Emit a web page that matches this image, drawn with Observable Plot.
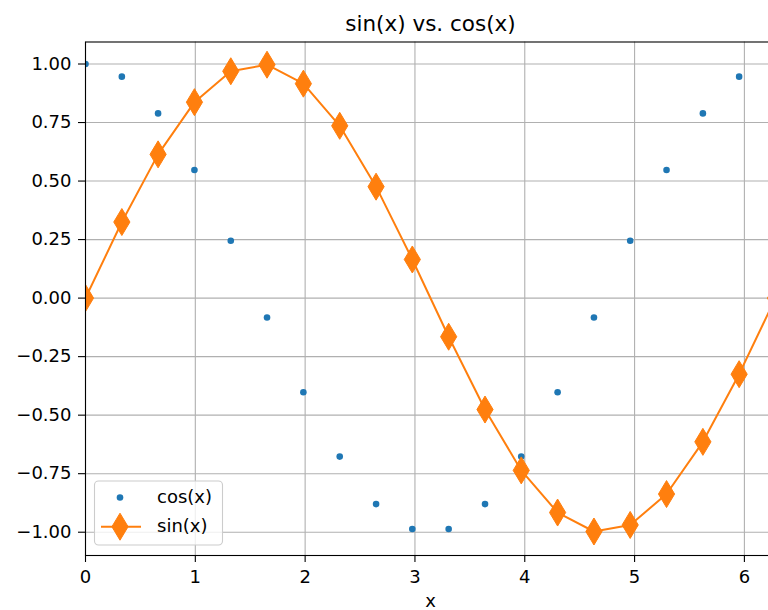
<!DOCTYPE html>
<html>
<head>
<meta charset="utf-8">
<script src="https://cdn.jsdelivr.net/npm/d3@7"></script>
<script src="https://cdn.jsdelivr.net/npm/@observablehq/plot@0.6"></script>
<style>
  html, body { margin: 0; padding: 0; overflow: hidden; background: white; }
  #chart svg { max-width: none !important; display: block; }
</style>
</head>
<body>
<div id="chart"></div>
<script>
const titleText = "sin(x) vs. cos(x)";
const xLabel = "x";
const xValues = [0, 0.331, 0.661, 0.992, 1.323, 1.653, 1.984, 2.315, 2.646, 2.976, 3.307, 3.638, 3.968, 4.299, 4.630, 4.960, 5.291, 5.622, 5.952, 6.283];
const cosValues = [1.000, 0.946, 0.789, 0.547, 0.245, -0.083, -0.402, -0.677, -0.880, -0.986, -0.986, -0.880, -0.677, -0.402, -0.083, 0.245, 0.547, 0.789, 0.946, 1.000];
const sinValues = [0.000, 0.325, 0.614, 0.837, 0.969, 0.997, 0.916, 0.736, 0.476, 0.165, -0.165, -0.476, -0.736, -0.916, -0.997, -0.969, -0.837, -0.614, -0.325, 0.000];
const xTicks = [0, 1, 2, 3, 4, 5, 6];
const yTicks = [1.00, 0.75, 0.50, 0.25, 0.00, -0.25, -0.50, -0.75, -1.00];
const seriesNames = ["cos(x)", "sin(x)"];

const data = xValues.map((x, i) => ({x, cos: cosValues[i], sin: sinValues[i]}));

const thinDiamond = {
  draw(ctx, size) {
    const r = Math.sqrt(size / Math.PI);
    const w = r * 0.6;
    ctx.moveTo(0, -r);
    ctx.lineTo(w, 0);
    ctx.lineTo(0, r);
    ctx.lineTo(-w, 0);
    ctx.closePath();
  }
};

const blue = "#1f77b4", orange = "#ff7f0e";
const fmt = d3.format(".2f");

const chart = Plot.plot({
  width: 775,
  height: 610,
  marginLeft: 85,
  marginRight: 0,
  marginTop: 41.5,
  marginBottom: 55,
  style: {fontFamily: "DejaVu Sans", fontSize: "18px", background: "white", color: "black"},
  x: {domain: [0, 6.2832]},
  y: {domain: [-1.0995, 1.094]},
  marks: [
    Plot.gridX(xTicks, {stroke: "#b0b0b0", strokeOpacity: 1, strokeWidth: 1.1}),
    Plot.gridY(yTicks, {stroke: "#b0b0b0", strokeOpacity: 1, strokeWidth: 1.1}),
    Plot.axisX(xTicks, {tickSize: 7, tickPadding: 8, tickFormat: d => String(d), fontSize: 18, stroke: "black", strokeWidth: 1.1, label: null}),
    Plot.axisY(yTicks, {tickSize: 7, tickPadding: 7, tickFormat: d => fmt(d), fontSize: 18, stroke: "black", strokeWidth: 1.1, label: null}),
    Plot.dot(data, {x: "x", y: "cos", r: 3.3, fill: blue, stroke: null, clip: true}),
    Plot.line(data, {x: "x", y: "sin", stroke: orange, strokeWidth: 2, clip: true}),
    Plot.dot(data, {x: "x", y: "sin", r: 13.5, symbol: thinDiamond, fill: orange, stroke: orange, strokeWidth: 1, clip: true}),
    Plot.frame({stroke: "black", strokeWidth: 1.1}),
    Plot.text([titleText], {frameAnchor: "top", lineAnchor: "middle", dy: -17.4, fontSize: 21.5, fill: "black"}),
    Plot.text([xLabel], {frameAnchor: "bottom", lineAnchor: "middle", dy: 45.5, fontSize: 18, fill: "black"})
  ]
});

// Legend (lower left, inside the axes)
const xr = chart.scale("x").range;
const yr = chart.scale("y").range;
const left = Math.min(...xr), bottom = Math.max(...yr);
const svg = d3.select(chart);
const lg = svg.append("g").attr("font-family", "DejaVu Sans").attr("font-size", 18).attr("text-anchor", "start");
lg.append("rect")
  .attr("x", left + 9.5).attr("y", bottom - 74)
  .attr("width", 128).attr("height", 64)
  .attr("rx", 4).attr("fill", "white").attr("fill-opacity", 0.8)
  .attr("stroke", "#cccccc").attr("stroke-width", 1.1);
const row1 = bottom - 57.5, row2 = bottom - 28.3;
lg.append("circle").attr("cx", left + 35).attr("cy", row1).attr("r", 3.3).attr("fill", blue);
lg.append("line").attr("x1", left + 16).attr("x2", left + 56).attr("y1", row2).attr("y2", row2)
  .attr("stroke", orange).attr("stroke-width", 2);
lg.append("path")
  .attr("d", d3.symbol(thinDiamond, 13.5 * 13.5 * Math.PI)())
  .attr("transform", `translate(${left + 35},${row2})`)
  .attr("fill", orange).attr("stroke", orange).attr("stroke-width", 1);
lg.append("text").attr("x", left + 72).attr("y", row1).attr("dy", "0.32em").attr("text-anchor", "start").attr("fill", "black").text(seriesNames[0]);
lg.append("text").attr("x", left + 72).attr("y", row2).attr("dy", "0.32em").attr("text-anchor", "start").attr("fill", "black").text(seriesNames[1]);

document.getElementById("chart").appendChild(chart);
</script>
</body>
</html>
